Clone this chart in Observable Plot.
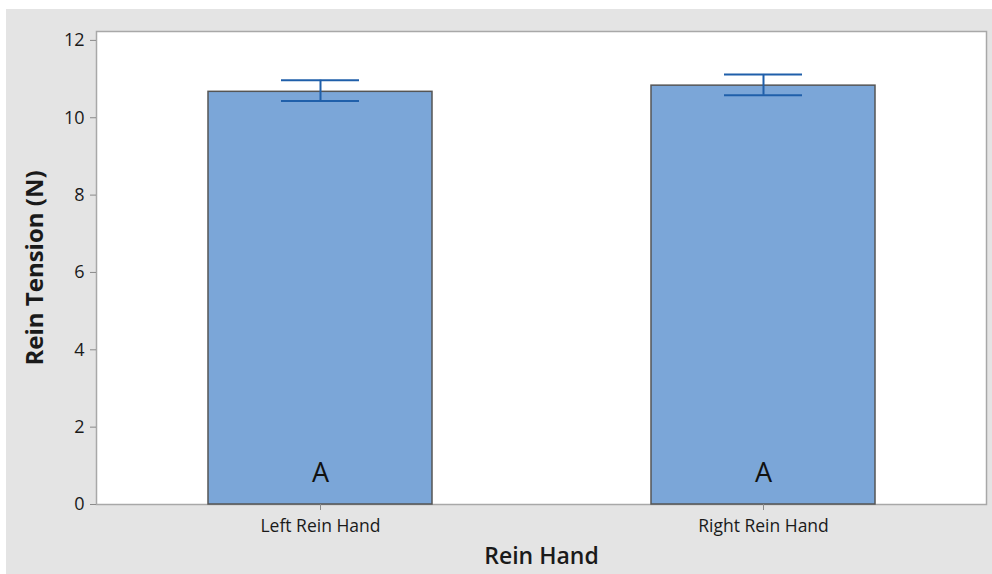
<!DOCTYPE html>
<html>
<head>
<meta charset="utf-8">
<script src="https://cdn.jsdelivr.net/npm/d3@7"></script>
<script src="https://cdn.jsdelivr.net/npm/@observablehq/plot@0.6"></script>
<style>
  html, body { margin: 0; padding: 0; background: #ffffff; }
  #wrap { position: relative; width: 992px; height: 574px; overflow: hidden; }
  #bg { position: absolute; left: 6px; top: 9px; right: 0; bottom: 0; background: #e4e4e4; }
  #chart { position: absolute; left: 0; top: 0; }
</style>
</head>
<body>
<div id="wrap"><div id="bg"></div><div id="chart"></div></div>
<script>
const categories = ["Left Rein Hand", "Right Rein Hand"];
const means = [10.67, 10.83];
const lowers = [10.43, 10.58];
const uppers = [10.97, 11.12];
const groupLetters = ["A", "A"];
const yTicks = [0, 2, 4, 6, 8, 10, 12];

const data = categories.map((c, i) => ({
  hand: c, mean: means[i], lo: lowers[i], hi: uppers[i], letter: groupLetters[i]
}));

const font = "'Open Sans', 'Noto Sans', sans-serif";

const plot = Plot.plot({
  width: 992,
  height: 574,
  marginLeft: 96,
  marginRight: 6,
  marginTop: 31,
  marginBottom: 70,
  style: { background: "transparent", fontFamily: font, color: "#1a1a1a" },
  x: { domain: categories, paddingInner: 0.495, paddingOuter: 0.25, label: null },
  y: { domain: [0, 12.23], label: null },
  marks: [
    Plot.frame({ fill: "white", stroke: "#a8a8a8", strokeWidth: 1.5 }),
    Plot.barY(data, { x: "hand", y: "mean", fill: "#7ba6d8", stroke: "#555555", strokeWidth: 1.5 }),
    Plot.ruleX(data, { x: "hand", y1: "lo", y2: "hi", stroke: "#1f5faa", strokeWidth: 2 }),
    Plot.tickY(data, { x: "hand", y: "hi", stroke: "#1f5faa", strokeWidth: 2, inset: 73 }),
    Plot.tickY(data, { x: "hand", y: "lo", stroke: "#1f5faa", strokeWidth: 2, inset: 73 }),
    Plot.text(data, { x: "hand", y: 0, text: "letter", dy: -31, fontSize: 27, fill: "#111111", fontFamily: font }),
    Plot.axisY({ ticks: yTicks, tickSize: 6, tickPadding: 6, fontSize: 18, stroke: "#8a8a8a", label: null }),
    Plot.axisX({ tickSize: 6, tickPadding: 9, fontSize: 17.5, stroke: "#8a8a8a", label: null }),
    Plot.text(["Rein Hand"], { frameAnchor: "bottom", dy: 59, fontSize: 23, fontWeight: 600, fill: "#1a1a1a", fontFamily: font }),
    Plot.text(["Rein Tension (N)"], { frameAnchor: "left", textAnchor: "middle", dx: -61, rotate: -90, fontSize: 24, fontWeight: 700, fill: "#1a1a1a", fontFamily: font })
  ]
});
document.getElementById("chart").appendChild(plot);
</script>
</body>
</html>
